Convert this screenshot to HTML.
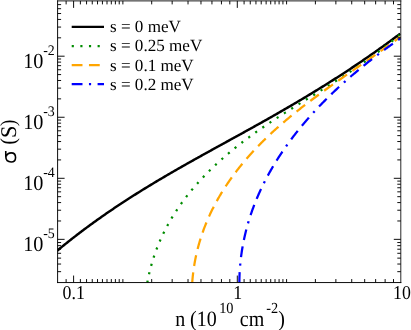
<!DOCTYPE html>
<html><head><meta charset="utf-8"><title>chart</title>
<style>html,body{margin:0;padding:0;background:#fff;width:411px;height:330px;overflow:hidden}</style>
</head><body>
<svg width="411" height="330" viewBox="0 0 411 330" style="position:absolute;left:0;top:0;will-change:transform" text-rendering="geometricPrecision">
<defs><clipPath id="c"><rect x="57.6" y="0.9" width="343.2" height="281.65000000000003"/></clipPath></defs>
<rect x="0" y="0" width="411" height="330" fill="#fff"/>
<g clip-path="url(#c)" fill="none" stroke-width="2.25" stroke-linejoin="round">
<path stroke="#000" stroke-width="2.45" d="M55.50,252.11 L56.65,251.15 L57.81,250.19 L58.96,249.24 L60.11,248.29 L61.26,247.35 L62.42,246.41 L63.57,245.47 L64.72,244.54 L65.88,243.62 L67.03,242.70 L68.18,241.78 L69.33,240.86 L70.49,239.95 L71.64,239.05 L72.79,238.15 L73.95,237.25 L75.10,236.35 L76.25,235.46 L77.40,234.58 L78.56,233.70 L79.71,232.82 L80.86,231.94 L82.02,231.07 L83.17,230.21 L84.32,229.34 L85.47,228.48 L86.63,227.63 L87.78,226.78 L88.93,225.93 L90.09,225.08 L91.24,224.24 L92.39,223.40 L93.54,222.57 L94.70,221.74 L95.85,220.91 L97.00,220.09 L98.16,219.26 L99.31,218.45 L100.46,217.63 L101.61,216.82 L102.77,216.01 L103.92,215.21 L105.07,214.41 L106.23,213.61 L107.38,212.82 L108.53,212.02 L109.68,211.24 L110.84,210.45 L111.99,209.67 L113.14,208.89 L114.29,208.11 L115.45,207.34 L116.60,206.57 L117.75,205.80 L118.91,205.03 L120.06,204.27 L121.21,203.51 L122.36,202.75 L123.52,202.00 L124.67,201.25 L125.82,200.50 L126.98,199.75 L128.13,199.01 L129.28,198.27 L130.43,197.53 L131.59,196.79 L132.74,196.06 L133.89,195.33 L135.05,194.60 L136.20,193.87 L137.35,193.15 L138.50,192.42 L139.66,191.70 L140.81,190.99 L141.96,190.27 L143.12,189.56 L144.27,188.85 L145.42,188.14 L146.57,187.43 L147.73,186.73 L148.88,186.03 L150.03,185.33 L151.19,184.63 L152.34,183.93 L153.49,183.24 L154.64,182.54 L155.80,181.85 L156.95,181.17 L158.10,180.48 L159.26,179.79 L160.41,179.11 L161.56,178.43 L162.71,177.75 L163.87,177.07 L165.02,176.39 L166.17,175.72 L167.33,175.04 L168.48,174.37 L169.63,173.70 L170.78,173.03 L171.94,172.36 L173.09,171.70 L174.24,171.03 L175.40,170.37 L176.55,169.71 L177.70,169.05 L178.85,168.39 L180.01,167.73 L181.16,167.07 L182.31,166.42 L183.47,165.76 L184.62,165.11 L185.77,164.46 L186.92,163.80 L188.08,163.15 L189.23,162.50 L190.38,161.86 L191.54,161.21 L192.69,160.56 L193.84,159.92 L194.99,159.27 L196.15,158.63 L197.30,157.98 L198.45,157.34 L199.61,156.70 L200.76,156.06 L201.91,155.42 L203.06,154.78 L204.22,154.14 L205.37,153.50 L206.52,152.86 L207.68,152.22 L208.83,151.59 L209.98,150.95 L211.13,150.32 L212.29,149.68 L213.44,149.04 L214.59,148.41 L215.75,147.77 L216.90,147.14 L218.05,146.51 L219.20,145.87 L220.36,145.24 L221.51,144.61 L222.66,143.97 L223.82,143.34 L224.97,142.71 L226.12,142.07 L227.27,141.44 L228.43,140.81 L229.58,140.17 L230.73,139.54 L231.88,138.91 L233.04,138.27 L234.19,137.64 L235.34,137.01 L236.50,136.37 L237.65,135.74 L238.80,135.10 L239.95,134.47 L241.11,133.83 L242.26,133.20 L243.41,132.56 L244.57,131.92 L245.72,131.29 L246.87,130.65 L248.02,130.01 L249.18,129.37 L250.33,128.74 L251.48,128.10 L252.64,127.46 L253.79,126.81 L254.94,126.17 L256.09,125.53 L257.25,124.89 L258.40,124.24 L259.55,123.60 L260.71,122.95 L261.86,122.31 L263.01,121.66 L264.16,121.01 L265.32,120.36 L266.47,119.71 L267.62,119.06 L268.78,118.41 L269.93,117.76 L271.08,117.10 L272.23,116.45 L273.39,115.79 L274.54,115.13 L275.69,114.48 L276.85,113.82 L278.00,113.16 L279.15,112.50 L280.30,111.83 L281.46,111.17 L282.61,110.51 L283.76,109.84 L284.92,109.17 L286.07,108.50 L287.22,107.84 L288.37,107.16 L289.53,106.49 L290.68,105.82 L291.83,105.15 L292.99,104.47 L294.14,103.79 L295.29,103.11 L296.44,102.43 L297.60,101.75 L298.75,101.07 L299.90,100.39 L301.06,99.70 L302.21,99.01 L303.36,98.33 L304.51,97.64 L305.67,96.95 L306.82,96.25 L307.97,95.56 L309.13,94.86 L310.28,94.17 L311.43,93.47 L312.58,92.77 L313.74,92.06 L314.89,91.36 L316.04,90.66 L317.20,89.95 L318.35,89.24 L319.50,88.53 L320.65,87.82 L321.81,87.10 L322.96,86.39 L324.11,85.67 L325.27,84.95 L326.42,84.23 L327.57,83.51 L328.72,82.79 L329.88,82.06 L331.03,81.33 L332.18,80.60 L333.34,79.87 L334.49,79.14 L335.64,78.40 L336.79,77.66 L337.95,76.92 L339.10,76.18 L340.25,75.44 L341.41,74.69 L342.56,73.95 L343.71,73.20 L344.86,72.45 L346.02,71.69 L347.17,70.94 L348.32,70.18 L349.47,69.42 L350.63,68.66 L351.78,67.89 L352.93,67.13 L354.09,66.36 L355.24,65.59 L356.39,64.82 L357.54,64.04 L358.70,63.26 L359.85,62.48 L361.00,61.70 L362.16,60.92 L363.31,60.13 L364.46,59.34 L365.61,58.55 L366.77,57.76 L367.92,56.96 L369.07,56.16 L370.23,55.36 L371.38,54.56 L372.53,53.76 L373.68,52.95 L374.84,52.14 L375.99,51.32 L377.14,50.51 L378.30,49.69 L379.45,48.87 L380.60,48.05 L381.75,47.22 L382.91,46.39 L384.06,45.56 L385.21,44.73 L386.37,43.89 L387.52,43.05 L388.67,42.21 L389.82,41.37 L390.98,40.52 L392.13,39.67 L393.28,38.82 L394.44,37.96 L395.59,37.11 L396.74,36.25 L397.89,35.38 L399.05,34.52 L400.20,33.65"/>
<path stroke="#008c00" stroke-dasharray="2.157 6.471" d="M147.30,282.71 L147.47,281.76 L147.65,280.82 L147.83,279.87 L148.01,278.93 L148.20,277.99 L148.40,277.05 L148.60,276.12 L148.80,275.18 L149.01,274.25 L149.22,273.33 L149.43,272.40 L149.66,271.48 L149.88,270.56 L150.11,269.64 L150.34,268.73 L150.58,267.82 L150.82,266.91 L151.07,266.00 L151.32,265.09 L151.58,264.19 L151.84,263.29 L152.10,262.39 L152.37,261.50 L152.64,260.61 L152.92,259.71 L153.20,258.83 L153.48,257.94 L153.77,257.06 L154.06,256.18 L154.36,255.30 L154.66,254.42 L154.97,253.55 L155.28,252.68 L155.59,251.81 L155.91,250.94 L156.23,250.08 L156.55,249.22 L156.88,248.36 L157.21,247.50 L157.55,246.65 L157.89,245.80 L158.24,244.95 L158.59,244.10 L158.94,243.25 L159.29,242.41 L159.65,241.57 L160.02,240.73 L160.38,239.90 L160.76,239.06 L161.13,238.23 L161.51,237.40 L161.89,236.58 L162.28,235.75 L162.67,234.93 L163.06,234.11 L163.46,233.29 L163.86,232.48 L164.26,231.67 L164.67,230.85 L165.08,230.05 L165.50,229.24 L165.91,228.44 L166.34,227.63 L166.76,226.84 L167.19,226.04 L167.62,225.24 L168.06,224.45 L168.50,223.66 L168.94,222.87 L169.39,222.09 L169.84,221.30 L170.29,220.52 L170.74,219.74 L171.20,218.96 L171.67,218.19 L172.13,217.41 L172.60,216.64 L173.07,215.87 L173.55,215.11 L174.03,214.34 L174.51,213.58 L175.00,212.82 L175.48,212.06 L175.98,211.31 L176.47,210.55 L176.97,209.80 L177.47,209.05 L177.97,208.31 L178.48,207.56 L178.99,206.82 L179.50,206.08 L180.02,205.34 L180.54,204.60 L181.06,203.87 L181.58,203.13 L182.11,202.40 L182.64,201.67 L183.18,200.95 L183.71,200.22 L184.25,199.50 L184.79,198.78 L185.34,198.06 L185.89,197.35 L186.44,196.63 L186.99,195.92 L187.55,195.21 L188.11,194.50 L188.67,193.80 L189.23,193.09 L189.80,192.39 L190.37,191.69 L190.94,190.99 L191.52,190.30 L192.09,189.60 L192.67,188.91 L193.26,188.22 L193.84,187.53 L194.43,186.84 L195.02,186.16 L195.61,185.48 L196.21,184.80 L196.80,184.12 L197.41,183.44 L198.01,182.77 L198.61,182.10 L199.22,181.42 L199.83,180.76 L200.44,180.09 L201.06,179.42 L201.67,178.76 L202.29,178.10 L202.92,177.44 L203.54,176.78 L204.17,176.13 L204.79,175.47 L205.42,174.82 L206.06,174.17 L206.69,173.52 L207.33,172.88 L207.97,172.23 L208.61,171.59 L209.25,170.95 L209.90,170.31 L210.55,169.67 L211.20,169.04 L211.85,168.41 L212.50,167.77 L213.16,167.14 L213.82,166.52 L214.48,165.89 L215.14,165.27 L215.80,164.64 L216.47,164.02 L217.14,163.40 L217.81,162.79 L218.48,162.17 L219.15,161.56 L219.83,160.95 L220.50,160.33 L221.18,159.73 L221.86,159.12 L222.55,158.51 L223.23,157.91 L223.92,157.31 L224.60,156.71 L225.29,156.11 L225.98,155.52 L226.68,154.92 L227.37,154.33 L228.07,153.74 L228.77,153.15 L229.46,152.56 L230.17,151.97 L230.87,151.39 L231.57,150.81 L232.28,150.23 L232.98,149.65 L233.69,149.07 L234.40,148.49 L235.11,147.92 L235.83,147.35 L236.54,146.77 L237.26,146.20 L237.97,145.64 L238.69,145.07 L239.41,144.51 L240.13,143.94 L240.86,143.38 L241.58,142.82 L242.31,142.26 L243.03,141.71 L243.76,141.15 L244.49,140.60 L245.22,140.05 L245.95,139.50 L246.68,138.95 L247.42,138.40 L248.15,137.85 L248.89,137.31 L249.62,136.77 L250.36,136.23 L251.10,135.69 L251.84,135.15 L252.58,134.61 L253.32,134.08 L254.07,133.54 L254.81,133.01 L255.56,132.48 L256.30,131.95 L257.05,131.42 L257.80,130.90 L258.55,130.37 L259.30,129.85 L260.05,129.32 L260.80,128.80 L261.55,128.28 L262.31,127.76 L263.06,127.24 L263.82,126.73 L264.57,126.21 L265.33,125.70 L266.09,125.18 L266.85,124.67 L267.61,124.16 L268.37,123.65 L269.13,123.14 L269.89,122.63 L270.65,122.12 L271.42,121.62 L272.18,121.11 L272.94,120.61 L273.71,120.11 L274.47,119.60 L275.24,119.10 L276.01,118.60 L276.78,118.10 L277.54,117.60 L278.31,117.10 L279.08,116.61 L279.85,116.11 L280.62,115.61 L281.39,115.12 L282.16,114.62 L282.94,114.13 L283.71,113.64 L284.48,113.14 L285.26,112.65 L286.03,112.16 L286.80,111.67 L287.58,111.18 L288.35,110.69 L289.13,110.20 L289.90,109.71 L290.68,109.22 L291.46,108.74 L292.23,108.25 L293.01,107.76 L293.79,107.27 L294.56,106.79 L295.34,106.30 L296.12,105.82 L296.90,105.33 L297.68,104.85 L298.46,104.36 L299.24,103.88 L300.01,103.40 L300.79,102.91 L301.57,102.43 L302.35,101.95 L303.13,101.46 L303.91,100.98 L304.69,100.50 L305.47,100.01 L306.25,99.53 L307.03,99.05 L307.81,98.57 L308.59,98.08 L309.37,97.60 L310.15,97.12 L310.93,96.64 L311.71,96.15 L312.49,95.67 L313.27,95.19 L314.05,94.71 L314.83,94.22 L315.61,93.74 L316.39,93.26 L317.17,92.77 L317.95,92.29 L318.73,91.81 L319.51,91.32 L320.29,90.84 L321.07,90.35 L321.85,89.87 L322.62,89.38 L323.40,88.90 L324.18,88.41 L324.96,87.93 L325.73,87.44 L326.51,86.95 L327.29,86.47 L328.06,85.98 L328.84,85.49 L329.62,85.00 L330.39,84.51 L331.17,84.02 L331.94,83.53 L332.71,83.04 L333.49,82.55 L334.26,82.06 L335.03,81.56 L335.81,81.07 L336.58,80.58 L337.35,80.08 L338.12,79.59 L338.89,79.09 L339.66,78.59 L340.43,78.10 L341.20,77.60 L341.96,77.10 L342.73,76.60 L343.50,76.10 L344.27,75.60 L345.03,75.10 L345.80,74.60 L346.56,74.10 L347.32,73.60 L348.09,73.09 L348.85,72.59 L349.61,72.08 L350.37,71.58 L351.13,71.07 L351.89,70.56 L352.65,70.06 L353.40,69.55 L354.16,69.04 L354.92,68.53 L355.67,68.01 L356.43,67.50 L357.18,66.99 L357.93,66.47 L358.68,65.96 L359.43,65.44 L360.18,64.93 L360.93,64.41 L361.68,63.89 L362.43,63.37 L363.17,62.85 L363.92,62.33 L364.66,61.81 L365.41,61.28 L366.15,60.76 L366.89,60.23 L367.63,59.71 L368.37,59.18 L369.10,58.65 L369.84,58.12 L370.58,57.59 L371.31,57.06 L372.04,56.53 L372.78,56.00 L373.51,55.46 L374.24,54.93 L374.96,54.39 L375.69,53.85 L376.42,53.31 L377.14,52.77 L377.87,52.23 L378.59,51.69 L379.31,51.15 L380.03,50.60 L380.75,50.06 L381.46,49.51 L382.18,48.96 L382.89,48.41 L383.61,47.86 L384.32,47.31 L385.03,46.76 L385.74,46.20 L386.44,45.65 L387.15,45.09 L387.85,44.53 L388.56,43.97 L389.26,43.41 L389.96,42.85 L390.66,42.29 L391.35,41.72 L392.05,41.16 L392.74,40.59 L393.43,40.02 L394.12,39.45 L394.81,38.88 L395.50,38.31 L396.19,37.73 L396.87,37.16 L397.55,36.58 L398.23,36.00 L398.91,35.42 L399.59,34.84"/>
<path stroke="#ffa500" stroke-dasharray="10.785 6.471" d="M192.19,283.09 L192.25,282.20 L192.32,281.31 L192.39,280.42 L192.46,279.54 L192.54,278.65 L192.63,277.77 L192.71,276.89 L192.80,276.01 L192.90,275.13 L193.00,274.26 L193.10,273.38 L193.20,272.51 L193.31,271.64 L193.43,270.77 L193.54,269.90 L193.67,269.04 L193.79,268.18 L193.92,267.31 L194.05,266.45 L194.19,265.59 L194.33,264.74 L194.47,263.88 L194.62,263.03 L194.77,262.18 L194.93,261.33 L195.08,260.48 L195.25,259.63 L195.41,258.79 L195.58,257.94 L195.76,257.10 L195.93,256.26 L196.11,255.42 L196.30,254.59 L196.48,253.75 L196.67,252.92 L196.87,252.09 L197.07,251.26 L197.27,250.43 L197.47,249.60 L197.68,248.78 L197.90,247.95 L198.11,247.13 L198.33,246.31 L198.55,245.49 L198.78,244.68 L199.01,243.86 L199.24,243.05 L199.48,242.24 L199.72,241.43 L199.96,240.62 L200.20,239.81 L200.45,239.01 L200.71,238.20 L200.96,237.40 L201.22,236.60 L201.49,235.80 L201.75,235.01 L202.02,234.21 L202.29,233.42 L202.57,232.62 L202.85,231.83 L203.13,231.05 L203.42,230.26 L203.71,229.47 L204.00,228.69 L204.29,227.91 L204.59,227.13 L204.89,226.35 L205.20,225.57 L205.50,224.79 L205.81,224.02 L206.13,223.25 L206.44,222.48 L206.76,221.71 L207.09,220.94 L207.41,220.17 L207.74,219.41 L208.07,218.64 L208.41,217.88 L208.75,217.12 L209.09,216.37 L209.43,215.61 L209.78,214.85 L210.13,214.10 L210.48,213.35 L210.84,212.60 L211.20,211.85 L211.56,211.10 L211.92,210.36 L212.29,209.61 L212.66,208.87 L213.03,208.13 L213.41,207.39 L213.79,206.65 L214.17,205.92 L214.55,205.18 L214.94,204.45 L215.33,203.72 L215.72,202.99 L216.12,202.26 L216.51,201.53 L216.91,200.81 L217.32,200.09 L217.72,199.36 L218.13,198.64 L218.54,197.92 L218.96,197.21 L219.37,196.49 L219.79,195.78 L220.22,195.06 L220.64,194.35 L221.07,193.64 L221.50,192.93 L221.93,192.23 L222.36,191.52 L222.80,190.82 L223.24,190.12 L223.68,189.42 L224.13,188.72 L224.57,188.02 L225.02,187.33 L225.48,186.63 L225.93,185.94 L226.39,185.25 L226.85,184.56 L227.31,183.87 L227.77,183.18 L228.24,182.50 L228.71,181.81 L229.18,181.13 L229.65,180.45 L230.13,179.77 L230.61,179.09 L231.09,178.42 L231.57,177.74 L232.06,177.07 L232.54,176.40 L233.03,175.73 L233.53,175.06 L234.02,174.39 L234.52,173.73 L235.02,173.06 L235.52,172.40 L236.02,171.74 L236.52,171.08 L237.03,170.42 L237.54,169.76 L238.05,169.11 L238.57,168.45 L239.08,167.80 L239.60,167.15 L240.12,166.50 L240.64,165.85 L241.17,165.21 L241.69,164.56 L242.22,163.92 L242.75,163.28 L243.28,162.64 L243.82,162.00 L244.35,161.36 L244.89,160.72 L245.43,160.09 L245.98,159.45 L246.52,158.82 L247.06,158.19 L247.61,157.56 L248.16,156.94 L248.71,156.31 L249.27,155.68 L249.82,155.06 L250.38,154.44 L250.94,153.82 L251.50,153.20 L252.06,152.58 L252.63,151.97 L253.19,151.35 L253.76,150.74 L254.33,150.13 L254.90,149.52 L255.47,148.91 L256.05,148.30 L256.63,147.69 L257.20,147.09 L257.78,146.49 L258.37,145.89 L258.95,145.28 L259.53,144.69 L260.12,144.09 L260.71,143.49 L261.30,142.90 L261.89,142.30 L262.48,141.71 L263.08,141.12 L263.67,140.53 L264.27,139.94 L264.87,139.36 L265.47,138.77 L266.07,138.19 L266.68,137.61 L267.28,137.03 L267.89,136.45 L268.50,135.87 L269.10,135.29 L269.72,134.72 L270.33,134.14 L270.94,133.57 L271.56,133.00 L272.17,132.43 L272.79,131.86 L273.41,131.29 L274.03,130.73 L274.65,130.16 L275.27,129.60 L275.90,129.03 L276.52,128.47 L277.15,127.91 L277.78,127.35 L278.41,126.80 L279.04,126.24 L279.67,125.69 L280.30,125.13 L280.94,124.58 L281.57,124.03 L282.21,123.48 L282.85,122.93 L283.49,122.38 L284.13,121.83 L284.77,121.29 L285.41,120.74 L286.05,120.20 L286.70,119.65 L287.34,119.11 L287.99,118.57 L288.64,118.03 L289.29,117.50 L289.94,116.96 L290.59,116.42 L291.24,115.89 L291.89,115.35 L292.54,114.82 L293.20,114.29 L293.85,113.76 L294.51,113.23 L295.17,112.70 L295.83,112.17 L296.49,111.64 L297.15,111.11 L297.81,110.59 L298.47,110.07 L299.13,109.54 L299.79,109.02 L300.46,108.50 L301.12,107.98 L301.79,107.46 L302.46,106.94 L303.12,106.42 L303.79,105.90 L304.46,105.39 L305.13,104.87 L305.80,104.36 L306.47,103.84 L307.14,103.33 L307.82,102.82 L308.49,102.31 L309.16,101.80 L309.84,101.29 L310.51,100.78 L311.19,100.27 L311.86,99.76 L312.54,99.25 L313.22,98.75 L313.90,98.24 L314.57,97.74 L315.25,97.23 L315.93,96.73 L316.61,96.23 L317.29,95.73 L317.97,95.23 L318.66,94.72 L319.34,94.23 L320.02,93.73 L320.70,93.23 L321.39,92.73 L322.07,92.23 L322.75,91.74 L323.44,91.24 L324.12,90.74 L324.81,90.25 L325.50,89.76 L326.18,89.26 L326.87,88.77 L327.55,88.28 L328.24,87.78 L328.93,87.29 L329.62,86.80 L330.30,86.31 L330.99,85.82 L331.68,85.33 L332.37,84.84 L333.06,84.35 L333.75,83.87 L334.43,83.38 L335.12,82.89 L335.81,82.41 L336.50,81.92 L337.19,81.43 L337.88,80.95 L338.57,80.46 L339.26,79.98 L339.95,79.49 L340.64,79.01 L341.33,78.53 L342.02,78.04 L342.71,77.56 L343.40,77.08 L344.09,76.60 L344.78,76.12 L345.47,75.64 L346.16,75.15 L346.85,74.67 L347.54,74.19 L348.23,73.71 L348.92,73.23 L349.61,72.75 L350.30,72.27 L350.99,71.80 L351.68,71.32 L352.37,70.84 L353.06,70.36 L353.75,69.88 L354.44,69.40 L355.13,68.93 L355.82,68.45 L356.51,67.97 L357.19,67.49 L357.88,67.02 L358.57,66.54 L359.26,66.06 L359.94,65.59 L360.63,65.11 L361.32,64.63 L362.00,64.16 L362.69,63.68 L363.37,63.21 L364.06,62.73 L364.74,62.25 L365.43,61.78 L366.11,61.30 L366.79,60.83 L367.48,60.35 L368.16,59.87 L368.84,59.40 L369.52,58.92 L370.21,58.45 L370.89,57.97 L371.57,57.50 L372.25,57.02 L372.93,56.54 L373.60,56.07 L374.28,55.59 L374.96,55.12 L375.64,54.64 L376.31,54.17 L376.99,53.69 L377.67,53.21 L378.34,52.74 L379.01,52.26 L379.69,51.78 L380.36,51.31 L381.03,50.83 L381.70,50.35 L382.37,49.88 L383.04,49.40 L383.71,48.92 L384.38,48.44 L385.05,47.97 L385.72,47.49 L386.38,47.01 L387.05,46.53 L387.71,46.05 L388.38,45.57 L389.04,45.09 L389.70,44.61 L390.36,44.13 L391.02,43.65 L391.68,43.17 L392.34,42.69 L393.00,42.21 L393.66,41.73 L394.31,41.25 L394.97,40.77 L395.62,40.28 L396.27,39.80 L396.93,39.32 L397.58,38.84 L398.23,38.35 L398.88,37.87 L399.52,37.38 L400.17,36.90"/>
<path stroke="#0000ff" stroke-dasharray="10.785 6.471 2.157 6.471 10.785 6.471" d="M239.36,282.89 L239.37,282.08 L239.38,281.28 L239.39,280.48 L239.40,279.68 L239.42,278.89 L239.43,278.09 L239.46,277.29 L239.48,276.50 L239.51,275.70 L239.54,274.91 L239.57,274.12 L239.61,273.33 L239.65,272.54 L239.69,271.75 L239.74,270.96 L239.79,270.17 L239.84,269.38 L239.89,268.60 L239.95,267.81 L240.01,267.03 L240.07,266.25 L240.14,265.46 L240.20,264.68 L240.28,263.90 L240.35,263.12 L240.43,262.34 L240.50,261.57 L240.59,260.79 L240.67,260.01 L240.76,259.24 L240.85,258.47 L240.94,257.69 L241.04,256.92 L241.14,256.15 L241.24,255.38 L241.34,254.61 L241.45,253.84 L241.56,253.07 L241.67,252.31 L241.79,251.54 L241.90,250.78 L242.02,250.01 L242.15,249.25 L242.27,248.49 L242.40,247.73 L242.53,246.97 L242.67,246.21 L242.80,245.45 L242.94,244.69 L243.08,243.94 L243.23,243.18 L243.37,242.43 L243.52,241.68 L243.67,240.92 L243.83,240.17 L243.99,239.42 L244.15,238.67 L244.31,237.92 L244.47,237.17 L244.64,236.43 L244.81,235.68 L244.98,234.94 L245.16,234.19 L245.34,233.45 L245.52,232.71 L245.70,231.97 L245.88,231.23 L246.07,230.49 L246.26,229.75 L246.45,229.01 L246.65,228.27 L246.84,227.54 L247.04,226.80 L247.25,226.07 L247.45,225.34 L247.66,224.61 L247.87,223.87 L248.08,223.14 L248.29,222.41 L248.51,221.69 L248.73,220.96 L248.95,220.23 L249.18,219.51 L249.40,218.78 L249.63,218.06 L249.86,217.34 L250.10,216.62 L250.33,215.90 L250.57,215.18 L250.81,214.46 L251.05,213.74 L251.30,213.02 L251.54,212.31 L251.79,211.59 L252.05,210.88 L252.30,210.16 L252.56,209.45 L252.82,208.74 L253.08,208.03 L253.34,207.32 L253.61,206.61 L253.87,205.90 L254.14,205.20 L254.42,204.49 L254.69,203.79 L254.97,203.08 L255.25,202.38 L255.53,201.68 L255.81,200.98 L256.10,200.28 L256.38,199.58 L256.67,198.88 L256.97,198.18 L257.26,197.49 L257.56,196.79 L257.86,196.10 L258.16,195.41 L258.46,194.71 L258.76,194.02 L259.07,193.33 L259.38,192.64 L259.69,191.95 L260.00,191.27 L260.32,190.58 L260.64,189.89 L260.96,189.21 L261.28,188.52 L261.60,187.84 L261.93,187.16 L262.25,186.48 L262.58,185.80 L262.92,185.12 L263.25,184.44 L263.59,183.76 L263.92,183.09 L264.26,182.41 L264.60,181.74 L264.95,181.06 L265.29,180.39 L265.64,179.72 L265.99,179.05 L266.34,178.38 L266.70,177.71 L267.05,177.04 L267.41,176.38 L267.77,175.71 L268.13,175.05 L268.49,174.38 L268.86,173.72 L269.23,173.06 L269.59,172.40 L269.96,171.74 L270.34,171.08 L270.71,170.42 L271.09,169.76 L271.47,169.10 L271.85,168.45 L272.23,167.79 L272.61,167.14 L273.00,166.49 L273.38,165.84 L273.77,165.19 L274.16,164.54 L274.56,163.89 L274.95,163.24 L275.35,162.59 L275.75,161.95 L276.15,161.30 L276.55,160.66 L276.95,160.02 L277.36,159.37 L277.76,158.73 L278.17,158.09 L278.58,157.45 L278.99,156.82 L279.41,156.18 L279.82,155.54 L280.24,154.91 L280.66,154.27 L281.08,153.64 L281.50,153.01 L281.92,152.38 L282.35,151.74 L282.78,151.12 L283.20,150.49 L283.63,149.86 L284.07,149.23 L284.50,148.61 L284.93,147.98 L285.37,147.36 L285.81,146.74 L286.25,146.11 L286.69,145.49 L287.13,144.87 L287.58,144.25 L288.02,143.64 L288.47,143.02 L288.92,142.40 L289.37,141.79 L289.82,141.17 L290.28,140.56 L290.73,139.95 L291.19,139.34 L291.65,138.73 L292.11,138.12 L292.57,137.51 L293.03,136.90 L293.50,136.29 L293.96,135.69 L294.43,135.08 L294.90,134.48 L295.37,133.88 L295.84,133.28 L296.31,132.68 L296.79,132.08 L297.26,131.48 L297.74,130.88 L298.22,130.28 L298.70,129.69 L299.18,129.09 L299.66,128.50 L300.15,127.90 L300.63,127.31 L301.12,126.72 L301.61,126.13 L302.10,125.54 L302.59,124.95 L303.08,124.37 L303.57,123.78 L304.07,123.20 L304.56,122.61 L305.06,122.03 L305.56,121.45 L306.06,120.86 L306.56,120.28 L307.06,119.71 L307.57,119.13 L308.07,118.55 L308.58,117.97 L309.08,117.40 L309.59,116.82 L310.10,116.25 L310.61,115.68 L311.13,115.10 L311.64,114.53 L312.15,113.96 L312.67,113.40 L313.19,112.83 L313.71,112.26 L314.23,111.70 L314.75,111.13 L315.27,110.57 L315.79,110.00 L316.31,109.44 L316.84,108.88 L317.37,108.32 L317.89,107.76 L318.42,107.20 L318.95,106.65 L319.48,106.09 L320.01,105.54 L320.55,104.98 L321.08,104.43 L321.61,103.88 L322.15,103.32 L322.69,102.77 L323.23,102.23 L323.76,101.68 L324.30,101.13 L324.85,100.58 L325.39,100.04 L325.93,99.49 L326.48,98.95 L327.02,98.41 L327.57,97.87 L328.11,97.33 L328.66,96.79 L329.21,96.25 L329.76,95.71 L330.31,95.17 L330.86,94.64 L331.42,94.10 L331.97,93.57 L332.52,93.04 L333.08,92.51 L333.64,91.98 L334.19,91.45 L334.75,90.92 L335.31,90.39 L335.87,89.86 L336.43,89.34 L336.99,88.81 L337.56,88.29 L338.12,87.77 L338.68,87.24 L339.25,86.72 L339.81,86.20 L340.38,85.68 L340.95,85.17 L341.52,84.65 L342.08,84.13 L342.65,83.62 L343.23,83.10 L343.80,82.59 L344.37,82.08 L344.94,81.57 L345.52,81.06 L346.09,80.55 L346.66,80.04 L347.24,79.53 L347.82,79.03 L348.39,78.52 L348.97,78.02 L349.55,77.52 L350.13,77.01 L350.71,76.51 L351.29,76.01 L351.87,75.51 L352.45,75.01 L353.04,74.52 L353.62,74.02 L354.20,73.53 L354.79,73.03 L355.37,72.54 L355.96,72.05 L356.55,71.55 L357.13,71.06 L357.72,70.58 L358.31,70.09 L358.90,69.60 L359.49,69.11 L360.08,68.63 L360.67,68.14 L361.26,67.66 L361.85,67.18 L362.44,66.70 L363.04,66.22 L363.63,65.74 L364.22,65.26 L364.82,64.78 L365.41,64.30 L366.01,63.83 L366.60,63.35 L367.20,62.88 L367.79,62.41 L368.39,61.94 L368.99,61.47 L369.59,61.00 L370.19,60.53 L370.78,60.06 L371.38,59.59 L371.98,59.13 L372.58,58.66 L373.18,58.20 L373.78,57.74 L374.39,57.28 L374.99,56.82 L375.59,56.36 L376.19,55.90 L376.80,55.44 L377.40,54.98 L378.00,54.53 L378.61,54.07 L379.21,53.62 L379.81,53.17 L380.42,52.72 L381.02,52.26 L381.63,51.82 L382.24,51.37 L382.84,50.92 L383.45,50.47 L384.05,50.03 L384.66,49.58 L385.27,49.14 L385.88,48.70 L386.48,48.25 L387.09,47.81 L387.70,47.37 L388.31,46.94 L388.92,46.50 L389.52,46.06 L390.13,45.63 L390.74,45.19 L391.35,44.76 L391.96,44.32 L392.57,43.89 L393.18,43.46 L393.79,43.03 L394.40,42.60 L395.01,42.18 L395.62,41.75 L396.23,41.32 L396.84,40.90 L397.45,40.48 L398.06,40.05 L398.67,39.63 L399.28,39.21 L399.90,38.79 L400.51,38.37"/>
</g>
<g stroke="#000" stroke-width="0.95" fill="none" shape-rendering="auto">
<path d="M73.60,282.55 v-7.0 M73.60,0.9 v7.0"/>
<path d="M237.30,282.55 v-7.0 M237.30,0.9 v7.0"/>
<path d="M66.11,282.55 v-3.5 M66.11,0.9 v3.5"/>
<path d="M80.38,282.55 v-3.5 M80.38,0.9 v3.5"/>
<path d="M86.56,282.55 v-3.5 M86.56,0.9 v3.5"/>
<path d="M92.25,282.55 v-3.5 M92.25,0.9 v3.5"/>
<path d="M97.52,282.55 v-3.5 M97.52,0.9 v3.5"/>
<path d="M102.43,282.55 v-3.5 M102.43,0.9 v3.5"/>
<path d="M107.01,282.55 v-3.5 M107.01,0.9 v3.5"/>
<path d="M111.32,282.55 v-3.5 M111.32,0.9 v3.5"/>
<path d="M115.39,282.55 v-3.5 M115.39,0.9 v3.5"/>
<path d="M119.23,282.55 v-3.5 M119.23,0.9 v3.5"/>
<path d="M122.88,282.55 v-3.5 M122.88,0.9 v3.5"/>
<path d="M151.70,282.55 v-3.5 M151.70,0.9 v3.5"/>
<path d="M172.16,282.55 v-3.5 M172.16,0.9 v3.5"/>
<path d="M188.02,282.55 v-3.5 M188.02,0.9 v3.5"/>
<path d="M200.98,282.55 v-3.5 M200.98,0.9 v3.5"/>
<path d="M211.94,282.55 v-3.5 M211.94,0.9 v3.5"/>
<path d="M221.44,282.55 v-3.5 M221.44,0.9 v3.5"/>
<path d="M229.81,282.55 v-3.5 M229.81,0.9 v3.5"/>
<path d="M244.08,282.55 v-3.5 M244.08,0.9 v3.5"/>
<path d="M250.26,282.55 v-3.5 M250.26,0.9 v3.5"/>
<path d="M255.95,282.55 v-3.5 M255.95,0.9 v3.5"/>
<path d="M261.22,282.55 v-3.5 M261.22,0.9 v3.5"/>
<path d="M266.13,282.55 v-3.5 M266.13,0.9 v3.5"/>
<path d="M270.71,282.55 v-3.5 M270.71,0.9 v3.5"/>
<path d="M275.02,282.55 v-3.5 M275.02,0.9 v3.5"/>
<path d="M279.09,282.55 v-3.5 M279.09,0.9 v3.5"/>
<path d="M282.93,282.55 v-3.5 M282.93,0.9 v3.5"/>
<path d="M286.58,282.55 v-3.5 M286.58,0.9 v3.5"/>
<path d="M315.40,282.55 v-3.5 M315.40,0.9 v3.5"/>
<path d="M335.86,282.55 v-3.5 M335.86,0.9 v3.5"/>
<path d="M351.72,282.55 v-3.5 M351.72,0.9 v3.5"/>
<path d="M364.68,282.55 v-3.5 M364.68,0.9 v3.5"/>
<path d="M375.64,282.55 v-3.5 M375.64,0.9 v3.5"/>
<path d="M385.14,282.55 v-3.5 M385.14,0.9 v3.5"/>
<path d="M393.51,282.55 v-3.5 M393.51,0.9 v3.5"/>
<path d="M57.6,271.67 h3.5 M400.8,271.67 h-3.5"/>
<path d="M57.6,264.04 h3.5 M400.8,264.04 h-3.5"/>
<path d="M57.6,258.13 h3.5 M400.8,258.13 h-3.5"/>
<path d="M57.6,253.29 h3.5 M400.8,253.29 h-3.5"/>
<path d="M57.6,249.21 h3.5 M400.8,249.21 h-3.5"/>
<path d="M57.6,245.67 h3.5 M400.8,245.67 h-3.5"/>
<path d="M57.6,242.54 h3.5 M400.8,242.54 h-3.5"/>
<path d="M57.6,239.35 h7.0 M400.8,239.35 h-7.0"/>
<path d="M57.6,220.97 h3.5 M400.8,220.97 h-3.5"/>
<path d="M57.6,210.22 h3.5 M400.8,210.22 h-3.5"/>
<path d="M57.6,202.59 h3.5 M400.8,202.59 h-3.5"/>
<path d="M57.6,196.68 h3.5 M400.8,196.68 h-3.5"/>
<path d="M57.6,191.84 h3.5 M400.8,191.84 h-3.5"/>
<path d="M57.6,187.76 h3.5 M400.8,187.76 h-3.5"/>
<path d="M57.6,184.22 h3.5 M400.8,184.22 h-3.5"/>
<path d="M57.6,181.09 h3.5 M400.8,181.09 h-3.5"/>
<path d="M57.6,178.30 h7.0 M400.8,178.30 h-7.0"/>
<path d="M57.6,159.92 h3.5 M400.8,159.92 h-3.5"/>
<path d="M57.6,149.17 h3.5 M400.8,149.17 h-3.5"/>
<path d="M57.6,141.54 h3.5 M400.8,141.54 h-3.5"/>
<path d="M57.6,135.63 h3.5 M400.8,135.63 h-3.5"/>
<path d="M57.6,130.79 h3.5 M400.8,130.79 h-3.5"/>
<path d="M57.6,126.71 h3.5 M400.8,126.71 h-3.5"/>
<path d="M57.6,123.17 h3.5 M400.8,123.17 h-3.5"/>
<path d="M57.6,120.04 h3.5 M400.8,120.04 h-3.5"/>
<path d="M57.6,117.25 h7.0 M400.8,117.25 h-7.0"/>
<path d="M57.6,98.87 h3.5 M400.8,98.87 h-3.5"/>
<path d="M57.6,88.12 h3.5 M400.8,88.12 h-3.5"/>
<path d="M57.6,80.49 h3.5 M400.8,80.49 h-3.5"/>
<path d="M57.6,74.58 h3.5 M400.8,74.58 h-3.5"/>
<path d="M57.6,69.74 h3.5 M400.8,69.74 h-3.5"/>
<path d="M57.6,65.66 h3.5 M400.8,65.66 h-3.5"/>
<path d="M57.6,62.12 h3.5 M400.8,62.12 h-3.5"/>
<path d="M57.6,58.99 h3.5 M400.8,58.99 h-3.5"/>
<path d="M57.6,56.20 h7.0 M400.8,56.20 h-7.0"/>
<path d="M57.6,37.82 h3.5 M400.8,37.82 h-3.5"/>
<path d="M57.6,27.07 h3.5 M400.8,27.07 h-3.5"/>
<path d="M57.6,19.44 h3.5 M400.8,19.44 h-3.5"/>
<path d="M57.6,13.53 h3.5 M400.8,13.53 h-3.5"/>
<path d="M57.6,8.69 h3.5 M400.8,8.69 h-3.5"/>
<path d="M57.6,4.61 h3.5 M400.8,4.61 h-3.5"/>
<path d="M57.6,0.4 V283.05"/>
<path d="M57.1,282.55 H401.3"/>
<path d="M400.8,0.4 V283.05" stroke-width="0.85"/>
<path d="M57.1,0.9 H401.3" stroke-width="0.9"/>
</g>
<g fill="none" stroke-width="2.25">
<path stroke="#000" d="M71.7,26.9 H104"/>
<path stroke="#008c00" stroke-dasharray="2.157 6.471" d="M71.7,46 H104"/>
<path stroke="#ffa500" stroke-dasharray="10.785 6.471" d="M71.7,65.1 H104"/>
<path stroke="#0000ff" stroke-dasharray="10.785 6.471 2.157 6.471 10.785 6.471" d="M71.7,84.1 H104"/>
</g>
<g font-family="Liberation Serif, serif" fill="#000">
<text transform="translate(110.0,32.4)" font-size="17.1px">s = 0 meV</text>
<text transform="translate(110.0,51.47)" font-size="17.1px">s = 0.25 meV</text>
<text transform="translate(110.0,70.53999999999999)" font-size="17.1px">s = 0.1 meV</text>
<text transform="translate(110.0,89.61)" font-size="17.1px">s = 0.2 meV</text>
<text transform="translate(73.7,298.8) scale(0.91,1.0)" font-size="19.6px" text-anchor="middle">0.1</text>
<text transform="translate(237.6,298.8) scale(0.91,1.0)" font-size="19.6px" text-anchor="middle">1</text>
<text transform="translate(402.0,298.8) scale(0.91,1.0)" font-size="19.6px" text-anchor="middle">10</text>
<text transform="translate(43.4,67.5) scale(0.94,1.0)" font-size="21.5px" text-anchor="end">10</text>
<text transform="translate(43.2,54.9) scale(0.95,1.0)" font-size="14.6px">-2</text>
<text transform="translate(43.4,128.55) scale(0.94,1.0)" font-size="21.5px" text-anchor="end">10</text>
<text transform="translate(43.2,115.95) scale(0.95,1.0)" font-size="14.6px">-3</text>
<text transform="translate(43.4,189.6) scale(0.94,1.0)" font-size="21.5px" text-anchor="end">10</text>
<text transform="translate(43.2,177.0) scale(0.95,1.0)" font-size="14.6px">-4</text>
<text transform="translate(43.4,250.65) scale(0.94,1.0)" font-size="21.5px" text-anchor="end">10</text>
<text transform="translate(43.2,238.05) scale(0.95,1.0)" font-size="14.6px">-5</text>
<text transform="translate(175.3,325.8) scale(0.909,1.0)" font-size="22px">n</text>
<text transform="translate(190.1,325.8) scale(0.909,1.0)" font-size="22px">(</text>
<text transform="translate(196.7,325.8) scale(0.909,1.0)" font-size="22px">10</text>
<text transform="translate(219.2,312.7) scale(0.93,1.0)" font-size="15.4px">10</text>
<text transform="translate(239.8,325.8) scale(0.909,1.0)" font-size="22px">cm</text>
<text transform="translate(266.3,312.7) scale(0.93,1.0)" font-size="15.4px">-2</text>
<text transform="translate(278.3,325.8) scale(0.909,1.0)" font-size="22px">)</text>
<text transform="translate(15.4,144.6) rotate(-90) scale(0.9,1.0)" font-size="21.4px">(</text>
<text transform="translate(16.1,138.1) rotate(-90)" font-size="22.4px">S</text>
<text transform="translate(15.4,125.9) rotate(-90) scale(0.9,1.0)" font-size="21.4px">)</text>
</g>
<path d="M5.75,151.1 L5.8,156.6 C5.85,160.4 8.3,162.05 11.2,162.05 C14.1,162.05 15.55,160 15.55,157.45 C15.55,154.8 14,152.85 11.2,152.85 C9,152.85 7.1,153.9 6.3,156.2" fill="none" stroke="#000" stroke-width="1.6" stroke-linejoin="round"/>
</svg>
</body></html>
